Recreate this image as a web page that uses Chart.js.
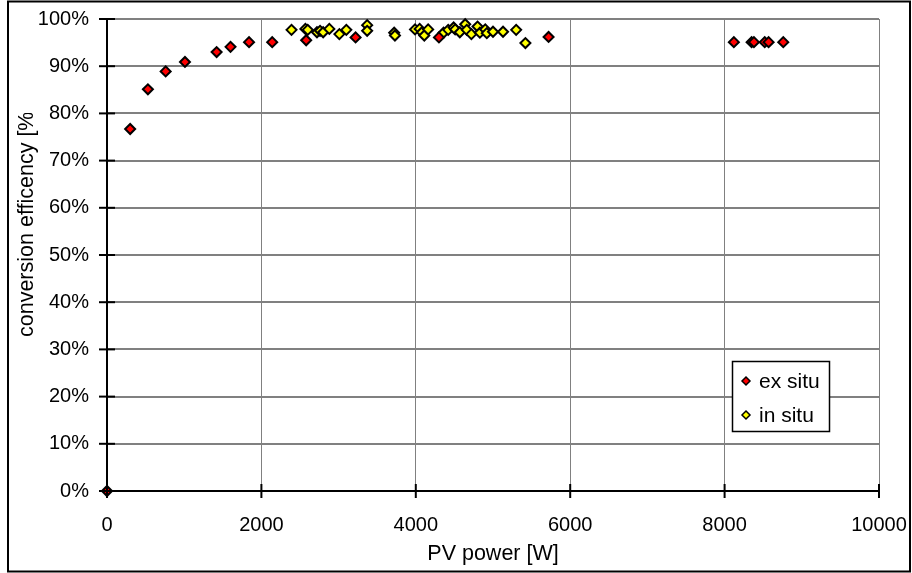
<!DOCTYPE html>
<html>
<head>
<meta charset="utf-8">
<script src="https://cdn.jsdelivr.net/npm/chart.js@4/dist/chart.umd.min.js"></script>
<style>
  body { margin: 0; background: #fff; }
</style>
</head>
<body>
<canvas id="effChart" width="912" height="573"></canvas>
<script>
const exSituPower = [0, 300, 530, 760, 1010, 1420, 1600, 1840, 2140, 2580, 3220, 4300, 5720, 8120, 8350, 8380, 8520, 8570, 8760];
const exSituEff   = [0, 76.7, 85.1, 88.9, 90.9, 93.0, 94.1, 95.1, 95.1, 95.5, 96.1, 96.1, 96.2, 95.1, 95.1, 95.1, 95.1, 95.1, 95.1];

const inSituPower = [2390, 2570, 2600, 2720, 2760, 2800, 2880, 3010, 3100, 3370, 3370, 3720, 3730, 3990, 4050, 4080, 4110, 4160,
                     4360, 4420, 4490, 4510, 4570, 4640, 4660, 4720, 4800, 4830, 4900, 4920, 5000, 5130, 5300, 5420];
const inSituEff   = [97.7, 97.9, 97.7, 97.2, 97.5, 97.2, 97.9, 96.8, 97.7, 98.7, 97.5, 97.1, 96.5, 97.8, 97.9, 97.2, 96.5, 97.8,
                     97.1, 97.7, 98.2, 97.8, 97.2, 98.9, 97.7, 96.8, 98.4, 97.1, 97.8, 97.0, 97.3, 97.3, 97.7, 94.9];

const xTicks = [0, 2000, 4000, 6000, 8000, 10000];
const yTicks = [0, 10, 20, 30, 40, 50, 60, 70, 80, 90, 100];

const FONT = '"Liberation Sans", Arial, sans-serif';

function toPoints(xs, ys) {
  return xs.map((x, i) => ({ x: x, y: ys[i] }));
}

// excel style extras: cross ticks, legend box, clipped y title, outer frame
const excelBits = {
  id: 'excelBits',
  afterDraw(chart) {
    const ctx = chart.ctx;
    const xs = chart.scales.x, ys = chart.scales.y;
    ctx.save();
    ctx.strokeStyle = '#000';
    ctx.lineWidth = 2;
    // cross tick marks
    ys.ticks.forEach(t => {
      const py = ys.getPixelForValue(t.value);
      ctx.beginPath();
      ctx.moveTo(xs.left - 8, py);
      ctx.lineTo(xs.left + 8, py);
      ctx.stroke();
    });
    xs.ticks.forEach(t => {
      const px = xs.getPixelForValue(t.value);
      ctx.beginPath();
      ctx.moveTo(px, ys.bottom - 7);
      ctx.lineTo(px, ys.bottom + 7);
      ctx.stroke();
    });

    // legend box
    ctx.fillStyle = '#fff';
    ctx.fillRect(732, 361, 97, 70);
    ctx.lineWidth = 1.5;
    ctx.strokeRect(732.5, 361.5, 97, 70);
    const rows = [381, 415];
    chart.data.datasets.forEach((ds, i) => {
      const cy = rows[i];
      ctx.beginPath();
      ctx.moveTo(746, cy - 4);
      ctx.lineTo(750, cy);
      ctx.lineTo(746, cy + 4);
      ctx.lineTo(742, cy);
      ctx.closePath();
      ctx.fillStyle = ds.backgroundColor;
      ctx.fill();
      ctx.lineWidth = 1.5;
      ctx.stroke();
      ctx.fillStyle = '#000';
      ctx.font = '21px ' + FONT;
      ctx.textBaseline = 'middle';
      ctx.textAlign = 'left';
      ctx.fillText(ds.label, 759, cy + 1);
    });

    // y axis title, cut off at the top like the original
    ctx.save();
    ctx.beginPath();
    ctx.rect(0, 113, 100, 300);
    ctx.clip();
    ctx.translate(33, 337);
    ctx.rotate(-Math.PI / 2);
    ctx.fillStyle = '#000';
    ctx.font = '21.5px ' + FONT;
    ctx.textAlign = 'left';
    ctx.textBaseline = 'alphabetic';
    ctx.fillText('conversion efficency [%]', 0, 0);
    ctx.restore();

    // outer frame
    ctx.lineWidth = 2;
    ctx.strokeStyle = '#000';
    ctx.strokeRect(8, 1.5, 902, 570);
    ctx.restore();
  }
};

const ctx = document.getElementById('effChart').getContext('2d');

new Chart(ctx, {
  type: 'scatter',
  data: {
    datasets: [
      {
        label: 'ex situ',
        data: toPoints(exSituPower, exSituEff),
        backgroundColor: '#ff0000',
        borderColor: '#000',
        borderWidth: 2,
        pointStyle: 'rectRot',
        pointRadius: 5,
        clip: false
      },
      {
        label: 'in situ',
        data: toPoints(inSituPower, inSituEff),
        backgroundColor: '#ffff00',
        borderColor: '#000',
        borderWidth: 2,
        pointStyle: 'rectRot',
        pointRadius: 5,
        clip: false
      }
    ]
  },
  options: {
    responsive: false,
    animation: false,
    devicePixelRatio: 1,
    layout: { padding: { top: 19, right: 33, left: 0, bottom: 0 } },
    plugins: {
      legend: { display: false },
      tooltip: { enabled: false }
    },
    scales: {
      x: {
        type: 'linear',
        min: 0,
        max: 10000,
        afterFit(scale) {
          scale.height = 82;
          scale.paddingLeft = 0;
          scale.paddingRight = 0;
        },
        afterBuildTicks(scale) { scale.ticks = xTicks.map(v => ({ value: v })); },
        grid: { color: '#808080', lineWidth: 1, drawTicks: false },
        border: { color: '#000', width: 2 },
        ticks: {
          padding: 22,
          color: '#000',
          font: { family: FONT, size: 20 },
          maxRotation: 0,
          autoSkip: false,
          callback: v => String(v)
        },
        title: {
          display: true,
          text: 'PV power [W]',
          color: '#000',
          font: { family: FONT, size: 21.5 },
          padding: { top: 0, bottom: 6 }
        }
      },
      y: {
        min: 0,
        max: 100,
        afterFit(scale) {
          scale.width = 107;
          scale.paddingTop = 0;
          scale.paddingBottom = 0;
        },
        afterBuildTicks(scale) { scale.ticks = yTicks.map(v => ({ value: v })); },
        grid: { color: '#808080', lineWidth: 2, drawTicks: false },
        border: { color: '#000', width: 2 },
        ticks: {
          padding: 18,
          color: '#000',
          font: { family: FONT, size: 20 },
          callback: v => v + '%'
        }
      }
    }
  },
  plugins: [excelBits]
});
</script>
</body>
</html>
